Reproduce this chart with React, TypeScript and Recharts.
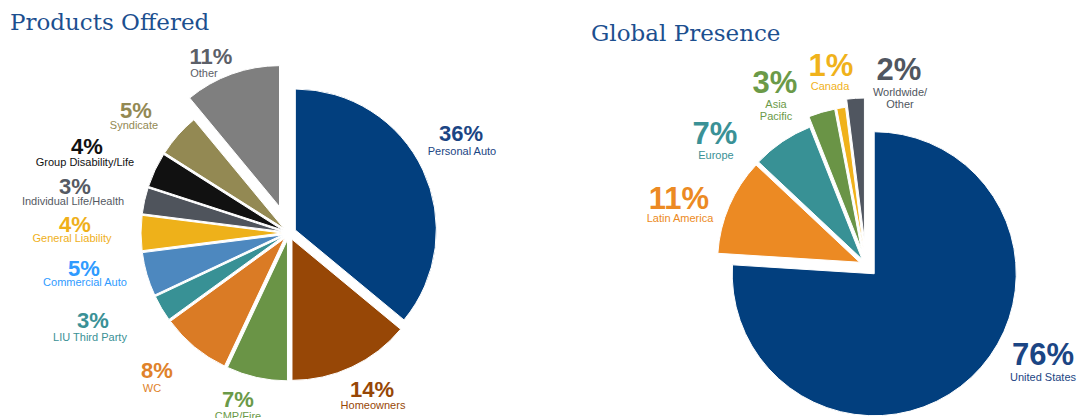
import React from 'react';
import { PieChart, Pie, Cell, Sector, Tooltip } from 'recharts';

// ---------- data ----------
const productNames = [
  'Personal Auto', 'Homeowners', 'CMP/Fire', 'WC', 'LIU Third Party', 'Commercial Auto',
  'General Liability', 'Individual Life/Health', 'Group Disability/Life', 'Syndicate', 'Other',
];
const productShares = [36, 14, 7, 8, 3, 5, 4, 3, 4, 5, 11];

const regionNames = ['United States', 'Latin America', 'Europe', 'Asia\nPacific', 'Canada', 'Worldwide/\nOther'];
const regionShares = [76, 11, 7, 3, 1, 2];

// ---------- styles ----------
const productColors = ['#023F7E', '#974706', '#6A9446', '#DA7B25', '#389195', '#4D88BF', '#EEB11A', '#4F545C', '#111111', '#938953', '#7F7F7F'];
const productLabelColors = ['#1B4584', '#974706', '#6B9A48', '#E0822A', '#3A9196', '#2F9BFF', '#EFB01A', '#555A63', '#111111', '#938953', '#5C6068'];
const productExplode = [7, 7, 7, 7, 7, 7, 7, 7, 7, 7, 28];
// [pctDx, pctDy, nameDx, nameDy] relative to pie centre
const productLabelPos = [
  [172, -100, 173, -82],
  [83, 156, 84, 172],
  [-51, 166, -51, 183],
  [-132, 137, -137, 155],
  [-196, 87, -199, 104],
  [-205, 35, -204, 49],
  [-214, -9, -217, 5],
  [-214, -47, -216, -32],
  [-202, -87, -204, -71],
  [-153, -123, -155, -108],
  [-78, -177, -85, -160],
];

const regionColors = ['#023F7E', '#EC8A23', '#389195', '#6A9446', '#F0B21B', '#505660'];
const regionLabelColors = ['#1B4584', '#EC8A23', '#3A9196', '#6B9A48', '#F0B21B', '#505660'];
const regionExplode = [12, 7, 7, 17, 17, 25];
const regionLabelPos = [
  [177, 89, 177, 112],
  [-187, -67, -186, -47],
  [-151, -132, -150, -110],
  [-91, -183, -90, -161],
  [-35, -200, -36, -179],
  [33, -196, 34, -173],
];

const productData = productNames.map((name, i) => ({ name, value: productShares[i] }));
const regionData = regionNames.map((name, i) => ({ name, value: regionShares[i] }));

const RAD = Math.PI / 180;

const makeShape = (names: string[], explode: number[]) => (props: any) => {
  const idx = names.indexOf(props.name ?? props.payload?.name);
  const d = idx >= 0 ? explode[idx] : 0;
  const dx = d * Math.cos(-props.midAngle * RAD);
  const dy = d * Math.sin(-props.midAngle * RAD);
  return (
    <Sector
      cx={props.cx + dx}
      cy={props.cy + dy}
      innerRadius={props.innerRadius}
      outerRadius={props.outerRadius}
      startAngle={props.startAngle}
      endAngle={props.endAngle}
      fill={props.fill}
      stroke="#ffffff"
      strokeWidth={1}
    />
  );
};

const productShape = makeShape(productNames, productExplode);
const regionShape = makeShape(regionNames, regionExplode);

const makeLabel = (
  pos: number[][],
  colors: string[],
  pctSize: number,
  nameSize: number,
  lineGap: number,
) => (props: any) => {
  const { cx, cy, index, name, value } = props;
  const p = pos[index];
  const color = colors[index];
  const lines = String(name).split('\n');
  return (
    <g key={`lbl-${index}`}>
      <text
        x={cx + p[0]}
        y={cy + p[1]}
        textAnchor="middle"
        dominantBaseline="central"
        fill={color}
        fontFamily="'Liberation Sans', Arial, sans-serif"
        fontWeight={700}
        fontSize={pctSize}
      >
        {`${value}%`}
      </text>
      {lines.map((ln, j) => (
        <text
          key={j}
          x={cx + p[2]}
          y={cy + p[3] + j * lineGap}
          textAnchor="middle"
          dominantBaseline="central"
          fill={color}
          fontFamily="'Liberation Sans', Arial, sans-serif"
          fontSize={nameSize}
        >
          {ln}
        </text>
      ))}
    </g>
  );
};

const productLabel = makeLabel(productLabelPos, productLabelColors, 22, 11, 12);
const regionLabel = makeLabel(regionLabelPos, regionLabelColors, 31, 11, 11.5);

export default function App() {
  return (
    <div style={{ position: 'absolute', left: 0, top: 0, width: 1077, height: 418, background: '#ffffff', overflow: 'hidden' }}>
      <PieChart width={1077} height={418} margin={{ top: 0, right: 0, bottom: 0, left: 0 }}>
        <Pie
          data={productData}
          dataKey="value"
          nameKey="name"
          cx={289}
          cy={233}
          innerRadius={0}
          outerRadius={141}
          startAngle={90}
          endAngle={-270}
          isAnimationActive={false}
          label={productLabel}
          labelLine={false}
          stroke="#ffffff"
          strokeWidth={1}
          shape={productShape}
          activeShape={productShape}
          inactiveShape={productShape}
        >
          {productData.map((d, i) => (
            <Cell key={d.name} fill={productColors[i]} />
          ))}
        </Pie>
        <Pie
          data={regionData}
          dataKey="value"
          nameKey="name"
          cx={866}
          cy={265}
          innerRadius={0}
          outerRadius={142}
          startAngle={90}
          endAngle={-270}
          isAnimationActive={false}
          label={regionLabel}
          labelLine={false}
          stroke="#ffffff"
          strokeWidth={1}
          shape={regionShape}
          activeShape={regionShape}
          inactiveShape={regionShape}
        >
          {regionData.map((d, i) => (
            <Cell key={d.name} fill={regionColors[i]} />
          ))}
        </Pie>
        <Tooltip defaultIndex={0} content={() => null} isAnimationActive={false} />
      </PieChart>
      <svg width={1077} height={418} style={{ position: 'absolute', left: 0, top: 0, pointerEvents: 'none' }}>
        <text x={10} y={30} fill="#1C4F8F" fontFamily="'DejaVu Serif', serif" fontSize={23}>
          Products Offered
        </text>
        <text x={591} y={41} fill="#1C4F8F" fontFamily="'DejaVu Serif', serif" fontSize={23}>
          Global Presence
        </text>
      </svg>
    </div>
  );
}
